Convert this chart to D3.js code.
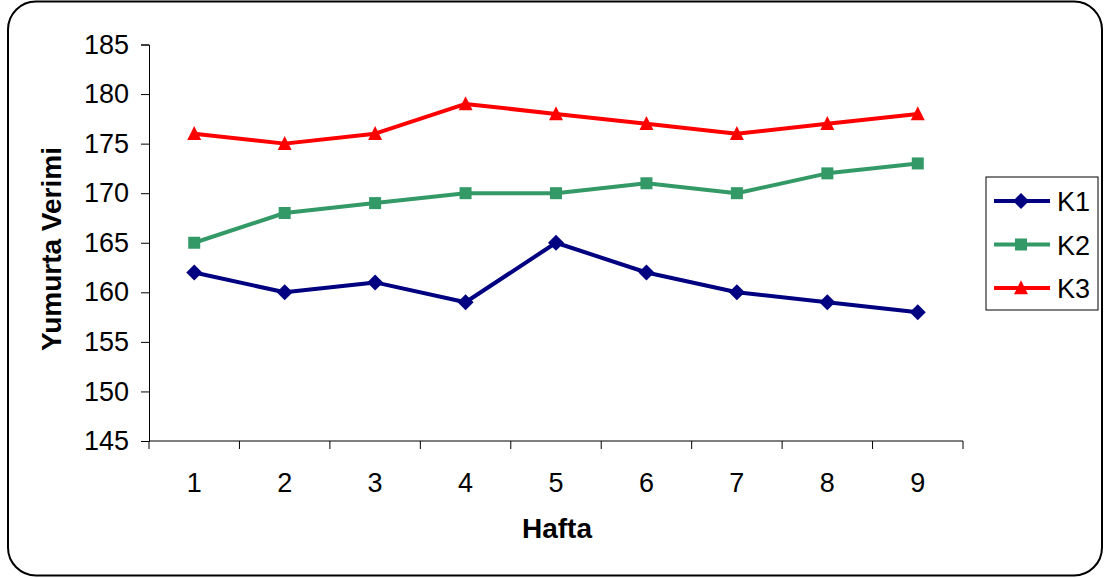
<!DOCTYPE html>
<html>
<head>
<meta charset="utf-8">
<script src="https://cdn.jsdelivr.net/npm/d3@7"></script>
<style>
  html, body { margin: 0; padding: 0; background: #fff; }
  svg { display: block; font-family: Arial, "Liberation Sans", sans-serif; }
</style>
</head>
<body>
<svg id="chart" width="1106" height="578"></svg>
<script>
// Weekly egg yield per group
const weeks = ["1", "2", "3", "4", "5", "6", "7", "8", "9"];
const k1 = [162, 160, 161, 159, 165, 162, 160, 159, 158];
const k2 = [165, 168, 169, 170, 170, 171, 170, 172, 173];
const k3 = [176, 175, 176, 179, 178, 177, 176, 177, 178];
const seriesNames = ["K1", "K2", "K3"];
const yTicks = [145, 150, 155, 160, 165, 170, 175, 180, 185];

const colors = { K1: "#000080", K2: "#339966", K3: "#ff0000" };

// marker shapes: rotated square, square, triangle
const diamond = { draw(ctx, size) { const r = Math.sqrt(size / 2); ctx.moveTo(0, -r); ctx.lineTo(r, 0); ctx.lineTo(0, r); ctx.lineTo(-r, 0); ctx.closePath(); } };
const square = { draw(ctx, size) { const h = Math.sqrt(size) / 2; ctx.rect(-h, -h, 2 * h, 2 * h); } };
const triangle = { draw(ctx, size) { const w = Math.sqrt(size); ctx.moveTo(0, -w * 0.55); ctx.lineTo(w / 2, w * 0.45); ctx.lineTo(-w / 2, w * 0.45); ctx.closePath(); } };
const shapes = { K1: diamond, K2: square, K3: triangle };
const sizes = { K1: 128, K2: 144, K3: 196 };

const series = [
  { name: seriesNames[0], values: k1 },
  { name: seriesNames[1], values: k2 },
  { name: seriesNames[2], values: k3 }
];

const svg = d3.select("#chart");

// outer rounded frame
svg.append("rect")
  .attr("x", 8).attr("y", 1.5)
  .attr("width", 1094).attr("height", 574)
  .attr("rx", 28).attr("ry", 28)
  .attr("fill", "#fff").attr("stroke", "#000").attr("stroke-width", 2);

const plot = { left: 149, right: 963, top: 44.5, bottom: 441 };

const x = d3.scaleBand().domain(weeks).range([plot.left, plot.right]).padding(0);
const y = d3.scaleLinear().domain([145, 185]).range([plot.bottom, plot.top]);

// y axis
const yAxis = d3.axisLeft(y).tickValues(yTicks).tickSize(8).tickPadding(12).tickFormat(d3.format("d"));
const gy = svg.append("g").attr("transform", `translate(${plot.left},0)`).call(yAxis);
gy.select(".domain").attr("stroke", "#000").attr("stroke-width", 1);
gy.selectAll(".tick line").attr("stroke", "#000");
gy.selectAll(".tick text").attr("font-size", 27).attr("fill", "#000")
  .attr("font-family", "Arial, 'Liberation Sans', sans-serif");

// x axis: ticks at category boundaries, labels centred in each band
const gx = svg.append("g").attr("transform", `translate(0,${plot.bottom})`);
gx.append("line")
  .attr("x1", plot.left).attr("x2", plot.right)
  .attr("stroke", "#000").attr("stroke-width", 1);
const bounds = weeks.map(w => x(w)).concat([x(weeks[weeks.length - 1]) + x.bandwidth()]);
gx.selectAll("line.tk").data(bounds).join("line").attr("class", "tk")
  .attr("x1", d => d).attr("x2", d => d).attr("y1", 0).attr("y2", 8)
  .attr("stroke", "#000");
gx.selectAll("text").data(weeks).join("text")
  .attr("x", d => x(d) + x.bandwidth() / 2)
  .attr("y", 51)
  .attr("text-anchor", "middle")
  .attr("font-size", 27)
  .attr("fill", "#000")
  .text(d => d);

// axis titles
svg.append("text")
  .attr("x", 557).attr("y", 538)
  .attr("text-anchor", "middle").attr("font-size", 28).attr("font-weight", "bold")
  .text("Hafta");
svg.append("text")
  .attr("transform", `translate(61,249) rotate(-90)`)
  .attr("text-anchor", "middle").attr("font-size", 28).attr("font-weight", "bold")
  .text("Yumurta Verimi");

// lines and markers
const line = d3.line()
  .x((d, i) => x(weeks[i]) + x.bandwidth() / 2)
  .y(d => y(d));

series.forEach(s => {
  const g = svg.append("g");
  g.append("path").datum(s.values)
    .attr("d", line).attr("fill", "none")
    .attr("stroke", colors[s.name]).attr("stroke-width", 4)
    .attr("stroke-linejoin", "round");
  g.selectAll("path.m").data(s.values).join("path").attr("class", "m")
    .attr("transform", (d, i) => `translate(${x(weeks[i]) + x.bandwidth() / 2},${y(d)})`)
    .attr("d", d3.symbol().type(shapes[s.name]).size(sizes[s.name]))
    .attr("fill", colors[s.name]);
});

// legend
const legend = svg.append("g");
legend.append("rect")
  .attr("x", 986).attr("y", 177).attr("width", 112).attr("height", 133)
  .attr("fill", "#fff").attr("stroke", "#000").attr("stroke-width", 1);
series.forEach((s, i) => {
  const cy = 201 + i * 43.5;
  legend.append("line")
    .attr("x1", 994).attr("x2", 1050).attr("y1", cy).attr("y2", cy)
    .attr("stroke", colors[s.name]).attr("stroke-width", 4);
  legend.append("path")
    .attr("transform", `translate(1021,${cy})`)
    .attr("d", d3.symbol().type(shapes[s.name]).size(sizes[s.name]))
    .attr("fill", colors[s.name]);
  legend.append("text")
    .attr("x", 1057).attr("y", cy + 10)
    .attr("font-size", 27).attr("fill", "#000")
    .text(s.name);
});
</script>
</body>
</html>
